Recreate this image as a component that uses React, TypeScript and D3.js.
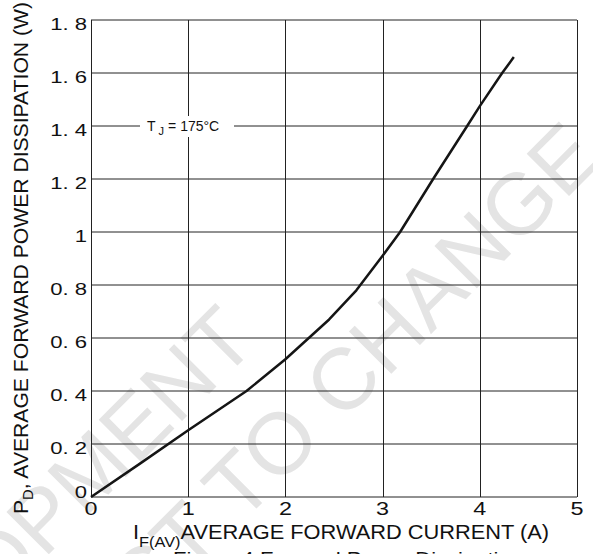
import * as d3 from "d3";

// forward power dissipation vs average forward current, Tj = 175C
const currentA = [0, 0.5, 1, 1.6, 2, 2.45, 2.73, 3, 3.18, 3.52, 3.87, 4, 4.23, 4.35];
const powerW = [0, 0.125, 0.252, 0.4, 0.52, 0.67, 0.78, 0.91, 1.0, 1.2, 1.4, 1.475, 1.6, 1.66];

const xTicks = [0, 1, 2, 3, 4, 5];
const xTickLabels = ["0", "1", "2", "3", "4", "5"];
const yTicks = [0, 0.2, 0.4, 0.6, 0.8, 1, 1.2, 1.4, 1.6, 1.8];
const yTickLabels = ["0", "0. 2", "0. 4", "0. 6", "0. 8", "1", "1. 2", "1. 4", "1. 6", "1. 8"];

const watermarkLines = ["DEVELOPMENT", "SUBJECT TO CHANGE"];

export default function App() {
  const width = 593;
  const height = 554;
  const font = "'Liberation Sans', Arial, sans-serif";

  const x = d3.scaleLinear([0, 5], [91, 577]);
  const y = d3.scaleLinear([0, 1.8], [497, 20]);

  const line = d3
    .line<number>()
    .x((d) => x(d))
    .y((_, i) => y(powerW[i]))
    .curve(d3.curveLinear);

  const crisp = (v: number) => Math.round(v) + 0.5;
  const annY = y(1.4);

  return (
    <svg
      width={width}
      height={height}
      style={{ position: "absolute", left: 0, top: 0, background: "white" }}
      fontFamily={font}
    >
      {/* watermark */}
      <g fill="#e4e4e4" fontSize={87}>
        <text transform="translate(259,344) rotate(-45)" textAnchor="end">
          {watermarkLines[0]}
        </text>
        <text transform="translate(605,160) rotate(-45)" textAnchor="end">
          {watermarkLines[1]}
        </text>
      </g>

      {/* grid */}
      <g stroke="#222" strokeWidth={1}>
        {xTicks.map((t) => (
          <line key={"vx" + t} x1={crisp(x(t))} x2={crisp(x(t))} y1={y(1.8)} y2={y(0)} />
        ))}
        {yTicks.map((t) => (
          <line key={"hy" + t} x1={x(0)} x2={x(5)} y1={y(t)} y2={y(t)} />
        ))}
      </g>

      {/* annotation */}
      <rect x={x(0) + 49} y={annY - 10} width={94} height={21} fill="white" />
      <text x={x(0) + 56} y={annY + 5} fontSize={14} fill="#111">
        T
        <tspan dx={3} dy={4} fontSize={11}>J</tspan>
        <tspan dy={-4} dx={4}>=  175°C</tspan>
      </text>

      <path d={line(currentA) ?? ""} fill="none" stroke="#151515" strokeWidth={2.5} strokeLinejoin="round" />

      {/* tick labels */}
      <g fontSize={18} fill="#111" textAnchor="middle">
        {xTicks.map((t, i) => (
          <text key={"xl" + t} transform={`translate(${x(t)},${y(0) + 18}) scale(1.3,1)`}>
            {xTickLabels[i]}
          </text>
        ))}
      </g>
      <g fontSize={17} fill="#111" textAnchor="end">
        {yTicks.map((t, i) => (
          <text
            key={"yl" + t}
            transform={`translate(${x(0) - 4},${t === 0 ? y(t) + 1 : y(t) + 10}) scale(1.3,1)`}
          >
            {yTickLabels[i]}
          </text>
        ))}
      </g>

      {/* axis titles */}
      <text
        x={133}
        y={539}
        fontSize={20}
        fill="#111"
        textLength={416}
        lengthAdjust="spacingAndGlyphs"
      >
        I
        <tspan dy={8} fontSize={15}>F(AV)</tspan>
        <tspan dy={-8}>AVERAGE FORWARD CURRENT (A)</tspan>
      </text>
      <text
        transform="translate(28,514) rotate(-90)"
        fontSize={20}
        fill="#111"
        textLength={512}
        lengthAdjust="spacingAndGlyphs"
      >
        P
        <tspan dy={5} fontSize={14}>D</tspan>
        <tspan dy={-5}>, AVERAGE FORWARD POWER DISSIPATION (W)</tspan>
      </text>

      <text x={173} y={565} fontSize={19} fill="#111" textLength={350} lengthAdjust="spacingAndGlyphs">
        Figure 4 Forward Power Dissipation
      </text>
    </svg>
  );
}
